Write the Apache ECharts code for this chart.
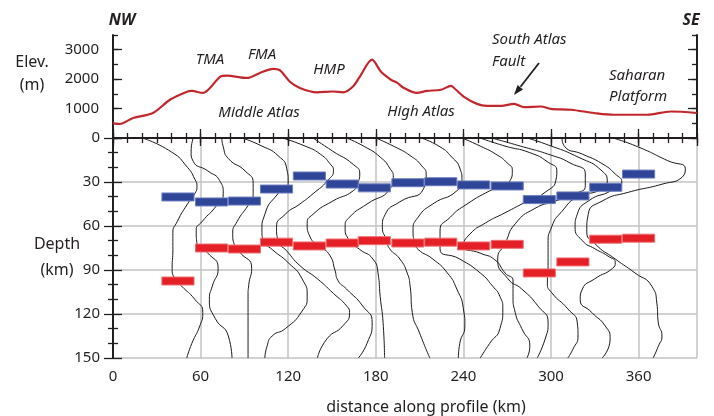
<!DOCTYPE html>
<html><head><meta charset="utf-8">
<script src="https://cdn.jsdelivr.net/npm/echarts@6/dist/echarts.min.js"></script>
<style>html,body{margin:0;padding:0;background:#fff}#c{width:714px;height:416px}</style>
</head><body><div id="c"></div>
<script>
// ---------- data ----------
const elevKm = [0, 4.8, 13.7, 27.4, 39, 50.7, 54, 61.6, 66.4, 73.3, 78, 91.8, 100.7, 109.6, 114.4, 121, 128, 139.7, 150.7, 157.5, 164.4, 169, 177.4, 183.6, 190.4, 194.5, 199.3, 208, 215, 224.7, 231.5, 233.6, 240.4, 249.3, 256, 265.8, 274.7, 281.5, 293, 300, 313.7, 329.5, 343, 365.8, 382, 400];
const elevM = [500, 480, 680, 850, 1300, 1570, 1600, 1530, 1700, 2080, 2120, 2040, 2210, 2350, 2300, 1920, 1700, 1550, 1580, 1550, 1750, 2080, 2660, 2250, 1980, 1880, 1700, 1530, 1600, 1640, 1770, 1700, 1400, 1160, 1090, 1090, 1160, 1050, 1070, 990, 960, 850, 790, 790, 900, 850];

const stationKm = [44.5, 67.5, 90, 112, 134.5, 157, 179, 202, 224.5, 247, 270, 292, 315, 337.5, 360];
const blueDepth = [40.2, 43.6, 43, 34.8, 25.9, 31.4, 34, 30.5, 29.8, 32, 32.7, 42, 39.5, 33.6, 24.6];
const redDepth  = [97.5, 75, 75.7, 71, 73.6, 71.6, 70, 71.6, 71, 73.6, 72.5, 92, 84.5, 69, 68.3];

const elevTicks = [1000, 2000, 3000];

const trace01 = [[20,0],[40,9.5],[51,20],[56,28],[57.5,33],[56,38],[51,45],[44,57],[41,65],[41,76],[40.5,89],[42.5,96],[47,101],[56,110],[61.5,119],[59.5,128],[54,140],[50.5,150]];
const trace02 = [[55,0],[53.5,9],[55,16],[65,22.5],[73,29],[75.5,38],[71,46],[61,57],[57,63],[57.5,72],[64.5,78],[72,89],[68,101],[66,110],[70,123],[79,135],[81.5,150]];
const trace03 = [[74.5,0],[75.5,6],[79,14],[90.5,22.5],[96,31],[96,40],[92.5,46],[85,57],[82,65],[83.5,74],[86,77],[95,89],[93,100],[92.5,108],[92.5,130],[92.5,150]];
const trace04 = [[88.5,0],[102,5.5],[113,12],[119,21],[120,30],[119,33.5],[113,38],[104,52],[102,63],[103,70],[109,76],[120,85],[129.5,96],[133,108],[129.5,118],[118,130],[109,135],[105.5,142],[104,150]];
const trace05 = [[116,0],[131.5,5.5],[142,11],[149,18],[151,22],[147,29],[137,38],[128,45],[118,52],[112,61],[113,70],[119,77],[128,87],[140,96],[151,106],[160,114.5],[162,119],[157.5,128],[146.5,137],[140,150]];
const trace06 = [[137,0],[150.5,9],[164.5,18],[169,24.5],[168,30],[164.5,36],[150.5,43],[137,52],[133,58.5],[135,67.5],[142,74],[148.5,80],[152,90],[154,97],[160,103],[171,114.5],[177.5,126],[174,140],[168,150]];
const trace07 = [[160,0],[172.5,6],[183,13],[189.5,20.5],[192,27],[189.5,35],[174,45],[162,54],[159,60.5],[162,70],[169,76],[178,82.5],[181.5,92],[183,108],[185,126],[186,150]];
const trace08 = [[180,0],[193,6],[203.5,12],[211.5,19],[214.5,25],[212.5,35],[196.5,43.5],[186.5,52],[184.5,60.5],[187.5,70],[189.5,75.5],[196.5,82.5],[201.5,92],[203.5,101],[205,119],[210,133],[217,150]];
const trace09 = [[211,0],[224,6],[232,13],[237.5,20.5],[239,28.5],[235.5,36],[219,45],[209,54],[205.5,63.5],[207,72],[209,76],[219,82.5],[229,92],[235.5,103],[240,116.5],[241,128],[237.5,140],[236.5,150]];
const trace10 = [[239,0],[251.5,5.5],[263,11.5],[270,17],[273.5,22],[272,29],[258,36],[242.5,45],[231,54],[224,63.5],[224,75.5],[237.5,82.5],[251.5,92],[260,101],[265,108],[267,116.5],[265,130],[258,140],[251.5,150]];
const trace11 = [[251.5,0],[268.5,5.5],[285.5,10],[298,16.5],[304,22.5],[303.5,28],[296,37],[282,44],[268.5,51],[255,58],[244.5,65.5],[240,73.5],[251.5,78.5],[261.5,83],[268.5,92],[274,97.5],[274,108],[275.5,119],[280,130],[285.5,142],[283.5,150]];
const trace12 = [[259.5,0],[279,5.5],[299.5,11.5],[313,17],[323.5,24.5],[323.5,32.5],[316.5,38],[303,43],[289,48],[275.5,58.5],[268.5,72],[263.5,82.5],[270.5,96],[280,103],[291,114.5],[298,126],[296,137],[290.5,150]];
const trace13 = [[283.5,0],[296,4],[318.5,13],[335,22.5],[338.5,30],[333.5,35.5],[318.5,40],[307.5,50],[300.5,60.5],[298,72],[298,87],[297.5,99],[300.5,105.5],[311.5,116.5],[318,126],[318.5,135],[315,144],[311.5,150]];
const trace14 = [[307.5,0],[309.5,6],[321.5,11],[335,17.5],[344,24.5],[348.5,30],[342,35.5],[325.5,43],[318,52],[316.5,60.5],[321.5,70],[330,75.5],[339,80.5],[344,85],[342,89],[330,96],[321.5,103],[320,110],[328,119],[337,128],[340.5,137],[335,150]];
const trace15 = [[342.5,0],[359.5,6],[380,15.5],[392,21],[390,26.5],[376,31.5],[353,37],[335,43],[325.5,52],[324.5,63.5],[330,72],[344,82.5],[357.5,92],[369,101],[372.5,112.5],[373.5,126],[376,135],[373.5,142],[370,150]];
const traces = [trace01, trace02, trace03, trace04, trace05, trace06, trace07, trace08, trace09, trace10, trace11, trace12, trace13, trace14, trace15];

// ---------- style / layout ----------
const FONT = 'Noto Sans';
const TXT = '#231f20';
const L = 113, W = 584, TOP1 = 35, H1 = 103, TOP2 = 138, H2 = 220;
const HALF = 11;     // half bar width (km)
const BAR_H = 8;     // bar thickness (px)

const frameLine = {show: true, lineStyle: {color: TXT, width: 2}};
const gridLine = {show: true, lineStyle: {color: '#c3c3c3', width: 1.5}};
const tick = (len) => ({show: true, inside: true, length: len, lineStyle: {color: TXT, width: 1.3}});
const lbl = {fontSize: 15, color: TXT, fontFamily: FONT};

function barRender(fill, stroke) {
  return function (params, api) {
    const c = api.value(0), d = api.value(1);
    const a = api.coord([c - HALF, d]);
    const b = api.coord([c + HALF, d]);
    return {type: 'rect', shape: {x: a[0], y: a[1] - BAR_H / 2, width: b[0] - a[0], height: BAR_H},
      style: {fill: fill, stroke: stroke, lineWidth: 1}};
  };
}

const chart = echarts.init(document.getElementById('c'), null, {renderer: 'canvas'});

const series = [];
series.push({type: 'line', xAxisIndex: 0, yAxisIndex: 0, data: elevKm.map((k, i) => [k, elevM[i]]),
  smooth: 0.3, symbol: 'none', lineStyle: {color: '#c1272d', width: 2.2}, z: 5, silent: true});
traces.forEach(t => series.push({type: 'line', xAxisIndex: 2, yAxisIndex: 4, data: t, smooth: 0.6,
  symbol: 'none', lineStyle: {color: '#1a1a1a', width: 1}, z: 3, silent: true}));
series.push({type: 'custom', xAxisIndex: 2, yAxisIndex: 4, renderItem: barRender('#2f4598', '#6d7dc0'),
  data: stationKm.map((c, i) => [c, blueDepth[i]]), encode: {x: 0, y: 1}, z: 6, silent: true});
series.push({type: 'custom', xAxisIndex: 2, yAxisIndex: 4, renderItem: barRender('#e41f26', '#f07075'),
  data: stationKm.map((c, i) => [c, redDepth[i]]), encode: {x: 0, y: 1}, z: 6, silent: true});

function txt(text, x, y, align, font) {
  return {type: 'text', z: 100, style: {text: text, x: x, y: y, textAlign: align || 'center',
    textVerticalAlign: 'middle', font: font || ('15px "' + FONT + '"'), fill: TXT}};
}
const IT = 'italic 15px "' + FONT + '"';
const BI = 'italic bold 16px "' + FONT + '"';
const LB = '16px "' + FONT + '"';

const option = {
  animation: false,
  grid: [
    {left: L, top: TOP1, width: W, height: H1},
    {left: L, top: TOP1, width: W, height: H1},
    {left: L, top: TOP2, width: W, height: H2},
    {left: L, top: TOP2, width: W, height: H2}
  ],
  xAxis: [
    {gridIndex: 0, type: 'value', min: 0, max: 400, show: false},
    {gridIndex: 1, type: 'value', min: 0, max: 400, show: false},
    {gridIndex: 2, type: 'value', min: 0, max: 400, interval: 60, position: 'bottom', axisLine: frameLine,
      axisTick: tick(9), axisLabel: Object.assign({showMaxLabel: false, margin: 11,
        formatter: v => (v % 60 === 0 ? String(v) : '')}, lbl), splitLine: gridLine},
    {gridIndex: 2, type: 'value', min: 0, max: 400, interval: 60, position: 'top', axisLine: frameLine,
      axisTick: tick(8), axisLabel: {show: false}, splitLine: {show: false}},
    {gridIndex: 3, type: 'value', min: 0, max: 400, interval: 10, position: 'bottom', axisLine: {show: false},
      axisTick: tick(5), axisLabel: {show: false}, splitLine: {show: false}},
    {gridIndex: 3, type: 'value', min: 0, max: 400, interval: 10, position: 'top', axisLine: {show: false},
      axisTick: tick(5), axisLabel: {show: false}, splitLine: {show: false}}
  ],
  yAxis: [
    {gridIndex: 0, type: 'value', min: 0, max: 3500, interval: 1000, position: 'left', axisLine: frameLine,
      axisTick: Object.assign(tick(9), {customValues: [0, 1000, 2000, 3000]}),
      axisLabel: Object.assign({customValues: elevTicks, margin: 14,
        formatter: v => (elevTicks.indexOf(v) >= 0 ? String(v) : '')}, lbl), splitLine: {show: false}},
    {gridIndex: 0, type: 'value', min: 0, max: 3500, interval: 1000, position: 'right', axisLine: frameLine,
      axisTick: Object.assign(tick(9), {customValues: [0, 1000, 2000, 3000]}), axisLabel: {show: false}, splitLine: {show: false}},
    {gridIndex: 1, type: 'value', min: 0, max: 3500, interval: 500, position: 'left', axisLine: {show: false},
      axisTick: tick(5), axisLabel: {show: false}, splitLine: {show: false}},
    {gridIndex: 1, type: 'value', min: 0, max: 3500, interval: 500, position: 'right', axisLine: {show: false},
      axisTick: tick(5), axisLabel: {show: false}, splitLine: {show: false}},
    {gridIndex: 2, type: 'value', min: 0, max: 150, interval: 30, inverse: true, position: 'left', axisLine: frameLine,
      axisTick: tick(9), minorTick: {show: true, splitNumber: 3, length: 5, lineStyle: {color: TXT, width: 1.3}},
      axisLabel: Object.assign({margin: 13}, lbl), splitLine: gridLine},
    {gridIndex: 2, type: 'value', min: 0, max: 150, interval: 30, inverse: true, position: 'right', axisLine: frameLine,
      axisTick: tick(9), minorTick: {show: true, splitNumber: 3, length: 5, lineStyle: {color: TXT, width: 1.3}},
      axisLabel: {show: false}, splitLine: {show: false}},
    {gridIndex: 3, type: 'value', min: 0, max: 150, inverse: true, show: false}
  ],
  series: series,
  graphic: [
    txt('NW', 122, 20, 'center', BI),
    txt('SE', 691, 20, 'center', BI),
    txt('Elev.', 32, 62, 'center', LB),
    txt('(m)', 32, 85, 'center', LB),
    txt('TMA', 210, 60, 'center', IT),
    txt('FMA', 262, 55, 'center', IT),
    txt('HMP', 329, 70, 'center', IT),
    txt('Middle Atlas', 259, 113, 'center', IT),
    txt('High Atlas', 421, 112, 'center', IT),
    txt('South Atlas', 492, 40, 'left', IT),
    txt('Fault', 492, 62, 'left', IT),
    txt('Saharan', 609, 76, 'left', IT),
    txt('Platform', 609, 97, 'left', IT),
    txt('Depth', 57, 244, 'center', LB),
    txt('(km)', 57, 270, 'center', LB),
    txt('distance along profile (km)', 426, 407, 'center', LB),
    {type: 'line', z: 100, shape: {x1: 539, y1: 63, x2: 520.5, y2: 86.8}, style: {stroke: TXT, lineWidth: 1.8}},
    {type: 'polygon', z: 100, shape: {points: [[514, 95], [523, 89.4], [517.6, 84.9]]}, style: {fill: TXT}}
  ]
};
chart.setOption(option);
</script></body></html>
